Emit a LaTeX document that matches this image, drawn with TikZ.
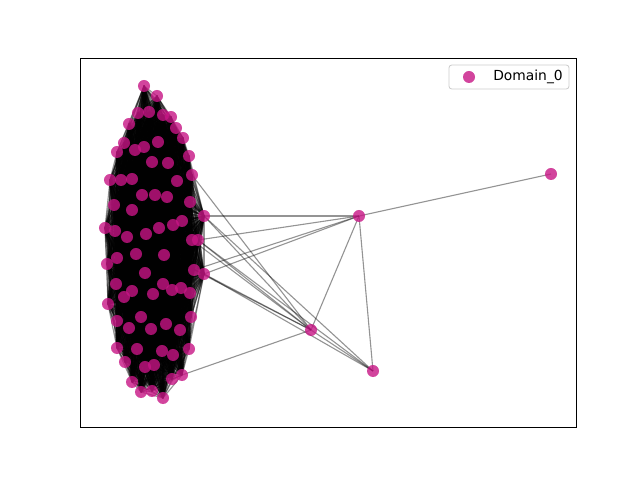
\documentclass[tikz,border=0pt]{standalone}
\usepackage{fontspec}
\setmainfont{DejaVu Sans}
\definecolor{nodecol}{HTML}{C71585}
\begin{document}
\begin{tikzpicture}[x=0.01in,y=-0.01in,
  dot/.style={circle,fill=nodecol,fill opacity=0.8,draw=none,inner sep=0pt,minimum size=0.12in},
  edge/.style={draw=black,draw opacity=0.42,line width=0.8pt}]
\useasboundingbox (0,0) rectangle (640,480);
\draw[line width=0.6pt] (80,58) rectangle (576,427);
\def\pts{144/86,157/96,138/113,149/112,163/115,171/117,129/124,176/128,183/138,124/143,135/150,144/147,158/142,117/152,189/156,152/162,168/163,110/180,121/180,132/179,177/181,192/175,142/195,155/195,167/197,114/205,132/210,190/202,204/216,105/228,115/231,127/237,146/234,159/228,173/225,182/221,192/240,198/240,136/254,164/255,117/258,107/264,145/273,194/270,204/274,116/284,163/284,132/291,124/297,153/294,172/290,181/288,190/293,108/304,141/317,117/321,191/317,166/324,129/328,151/329,180/330,117/348,137/349,162/351,189/349,173/355,125/362,145/367,154/365,132/382,172/379,182/375,141/392,152/391,163/398}
\foreach \x/\y [count=\i] in \pts {\coordinate (c\i) at (\x,\y);}
\coordinate (o1) at (359,216);
\coordinate (o2) at (311,330);
\coordinate (o3) at (373,371);
\coordinate (o4) at (551,174);
\foreach \i in {1,...,75}{
  \foreach \j in {\i,...,75}{
    \ifnum\j>\i \draw[edge] (c\i) -- (c\j);\fi
  }
}
\foreach \a/\b in {c29/o1,c38/o1,c44/o1,c45/o1,c22/o2,c29/o2,c38/o2,c37/o2,c44/o2,c45/o2,c72/o2,c29/o3,c38/o3,c45/o3,o1/o2,o1/o3,o1/o4,o2/o3}
  {\draw[edge] (\a) -- (\b);}
\foreach \i in {1,...,75}{\node[dot] (n\i) at (c\i) {};}
\node[dot] (m1) at (o1) {};
\node[dot] (m2) at (o2) {};
\node[dot] (m3) at (o3) {};
\node[dot] (m4) at (o4) {};
\draw[draw=black!20,fill=white,fill opacity=0.8,rounded corners=2pt,line width=0.6pt] (449,65) rectangle (569,89);
\node[dot] (lg) at (469,77) {};
\node[anchor=west,inner sep=0pt,font=\fontsize{10}{12}\selectfont] (lt) at (493,77) {Domain\_0};
\end{tikzpicture}
\end{document}
